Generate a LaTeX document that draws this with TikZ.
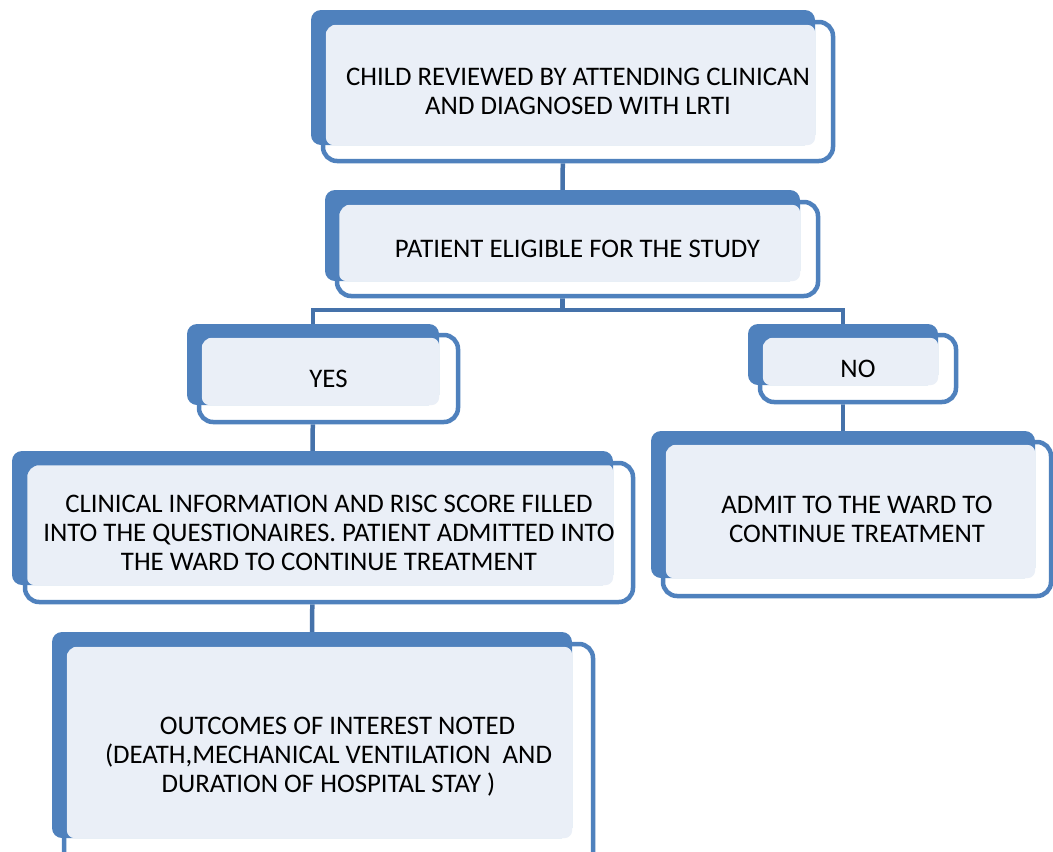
\documentclass[tikz,border=0pt]{standalone}
\usepackage{fontspec}
\setmainfont{Carlito}
\usetikzlibrary{calc,backgrounds}
\definecolor{boxblue}{RGB}{79,129,189}
\definecolor{linkblue}{RGB}{69,114,170}
\definecolor{boxfill}{RGB}{234,239,247}

\begin{document}
\begin{tikzpicture}[x=1pt, y=-1pt,
  backbox/.style={fill=boxblue, rounded corners=10pt, inner sep=0pt},
  frontbox/.style={draw=boxblue, line width=4.5pt, rounded corners=14pt, align=center,
                   font=\fontsize{26.8}{29}\selectfont, inner sep=0pt},
  tintbox/.style={fill=boxfill, rounded corners=8pt},
  link/.style={draw=linkblue, line width=4.5pt}]
\useasboundingbox (0,0) rectangle (1053,852);

% top of the chart
\node[backbox, minimum width=504pt, minimum height=135pt] (child) at (563,77.5) {};
\fill[tintbox] ($(child.north west)+(15,15)$) rectangle (child.south east);
\node[frontbox, minimum width=510pt, minimum height=139pt] (childtxt) at (578,91.5)
  {CHILD REVIEWED BY ATTENDING CLINICAN\\AND DIAGNOSED WITH LRTI};

\node[backbox, minimum width=475pt, minimum height=91pt] (elig) at (562.5,235.5) {};
\fill[tintbox] ($(elig.north west)+(14,15)$) rectangle (elig.south east);
\node[frontbox, minimum width=481pt, minimum height=94pt] (eligtxt) at (577.5,249)
  {PATIENT ELIGIBLE FOR THE STUDY};

% yes branch
\node[backbox, minimum width=252pt, minimum height=81pt] (yes) at (313,364.5) {};
\fill[tintbox] ($(yes.north west)+(15,14)$) rectangle (yes.south east);
\node[frontbox, minimum width=259pt, minimum height=87pt] (yestxt) at (328.5,378.5) {YES};

\node[backbox, minimum width=601pt, minimum height=134pt] (clin) at (312.5,518) {};
\fill[tintbox] ($(clin.north west)+(15,13)$) rectangle (clin.south east);
\node[frontbox, minimum width=608pt, minimum height=139pt] (clintxt) at (329,532.5)
  {CLINICAL INFORMATION AND RISC SCORE FILLED\\INTO THE QUESTIONAIRES. PATIENT ADMITTED INTO\\THE WARD TO CONTINUE TREATMENT};

\node[backbox, minimum width=520pt, minimum height=206pt] (outc) at (312,735) {};
\fill[tintbox] ($(outc.north west)+(15,15)$) rectangle (outc.south east);
\node[frontbox, minimum width=529pt, minimum height=226pt] (outctxt) at (328.5,757)
  {\ \ \ OUTCOMES OF INTEREST NOTED\\(DEATH,MECHANICAL VENTILATION\ \ AND\\DURATION OF HOSPITAL STAY )};

% no branch
\node[backbox, minimum width=190pt, minimum height=61pt] (no) at (843,354.5) {};
\fill[tintbox] ($(no.north west)+(15,14)$) rectangle (no.south east);
\node[frontbox, minimum width=196pt, minimum height=67pt] (notxt) at (858,368.5) {NO};

\node[backbox, minimum width=384pt, minimum height=147pt] (admit) at (843,504.5) {};
\fill[tintbox] ($(admit.north west)+(15,14)$) rectangle (admit.south east);
\node[frontbox, minimum width=388pt, minimum height=154pt] (admittxt) at (857,519)
  {ADMIT TO THE WARD TO\\CONTINUE TREATMENT};

\coordinate (split) at (562.5,310);

% connectors behind the boxes
\begin{pgfonlayer}{background}
\draw[link] (child.south) -- (elig.north);
\draw[link] (elig.south) -- (split);
\draw[link] (yes.north) |- (split) -| (no.north);
\draw[link] (yes.south) -- (clin.north);
\draw[link] (no.south) -- (admit.north);
\draw[link] (clin.south) -- (outc.north);
\foreach \n in {childtxt,eligtxt,yestxt,clintxt,outctxt,notxt,admittxt}
  \fill[white, rounded corners=14pt] (\n.north west) rectangle (\n.south east);
\end{pgfonlayer}
\end{tikzpicture}
\end{document}
